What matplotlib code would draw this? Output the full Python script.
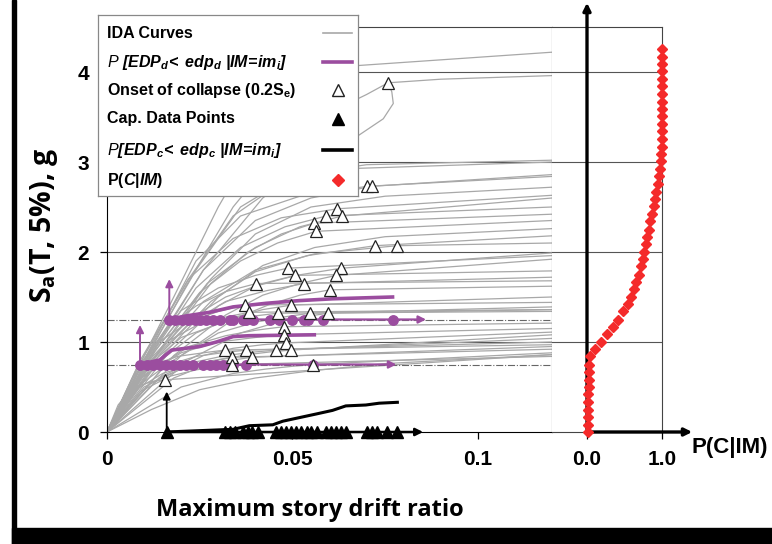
# IDA curves with collapse fragility panel

import numpy as np
import matplotlib.pyplot as plt
from matplotlib.patches import Rectangle

plt.rcParams['font.family'] = ['Liberation Sans', 'DejaVu Sans']
plt.rcParams['mathtext.fontset'] = 'custom'
plt.rcParams['mathtext.rm'] = 'Liberation Sans:bold'
plt.rcParams['mathtext.it'] = 'Liberation Sans:italic'
plt.rcParams['mathtext.bf'] = 'Liberation Sans:bold'
plt.rcParams['mathtext.bfit'] = 'Liberation Sans:bold:italic'

#-----------------------------------
# IDA curves: drift (x) vs Sa (y)
ida_x = [
    [0, 0.007, 0.018, 0.030, 0.044, 0.060, 0.12],
    [0, 0.009, 0.021, 0.034, 0.048, 0.060, 0.070, 0.0758, 0.090, 0.12],
    [0, 0.011, 0.026, 0.042, 0.058, 0.068, 0.0745, 0.0772, 0.0768, 0.0758],
    [0, 0.010, 0.024, 0.036, 0.050, 0.070, 0.12],
    [0, 0.008, 0.022, 0.034, 0.048, 0.068, 0.12],
    [0, 0.012, 0.026, 0.040, 0.055, 0.0715, 0.12],
    [0, 0.010, 0.024, 0.036, 0.052, 0.0702, 0.12],
    [0, 0.014, 0.028, 0.040, 0.055, 0.075, 0.12],
    [0, 0.009, 0.022, 0.034, 0.047, 0.0621, 0.12],
    [0, 0.013, 0.027, 0.040, 0.052, 0.0634, 0.12],
    [0, 0.011, 0.024, 0.036, 0.048, 0.0591, 0.12],
    [0, 0.015, 0.028, 0.038, 0.047, 0.0559, 0.12],
    [0, 0.012, 0.025, 0.036, 0.046, 0.0564, 0.12],
    [0, 0.016, 0.030, 0.042, 0.056, 0.075, 0.12],
    [0, 0.014, 0.028, 0.040, 0.054, 0.0723, 0.12],
    [0, 0.012, 0.026, 0.040, 0.056, 0.0782, 0.12],
    [0, 0.017, 0.030, 0.040, 0.051, 0.0632, 0.12],
    [0, 0.010, 0.020, 0.030, 0.040, 0.0487, 0.12],
    [0, 0.018, 0.032, 0.042, 0.052, 0.0618, 0.12],
    [0, 0.012, 0.022, 0.032, 0.042, 0.0508, 0.12],
    [0, 0.011, 0.022, 0.032, 0.043, 0.0532, 0.12],
    [0, 0.020, 0.034, 0.044, 0.052, 0.0602, 0.12],
    [0, 0.008, 0.016, 0.024, 0.032, 0.0403, 0.12],
    [0, 0.013, 0.024, 0.034, 0.042, 0.0497, 0.12],
    [0, 0.007, 0.014, 0.022, 0.030, 0.0371, 0.12],
    [0, 0.016, 0.030, 0.040, 0.048, 0.0548, 0.12],
    [0, 0.008, 0.016, 0.024, 0.031, 0.0384, 0.12],
    [0, 0.010, 0.020, 0.030, 0.038, 0.0460, 0.12],
    [0, 0.022, 0.036, 0.046, 0.053, 0.0597, 0.12],
    [0, 0.011, 0.022, 0.032, 0.040, 0.0476, 0.12],
    [0, 0.009, 0.020, 0.030, 0.040, 0.0476, 0.12],
    [0, 0.014, 0.026, 0.034, 0.042, 0.0484, 0.12],
    [0, 0.018, 0.030, 0.038, 0.044, 0.0495, 0.12],
    [0, 0.012, 0.024, 0.032, 0.040, 0.0457, 0.12],
    [0, 0.008, 0.016, 0.024, 0.031, 0.0376, 0.12],
    [0, 0.006, 0.012, 0.019, 0.026, 0.0317, 0.12],
    [0, 0.010, 0.020, 0.028, 0.034, 0.0390, 0.12],
    [0, 0.007, 0.015, 0.022, 0.028, 0.0336, 0.12],
    [0, 0.009, 0.017, 0.024, 0.029, 0.0338, 0.12],
    [0, 0.020, 0.034, 0.043, 0.050, 0.0556, 0.12],
    [0, 0.003, 0.006, 0.009, 0.012, 0.0156, 0.12],
    [0, 0.012, 0.025, 0.040, 0.055, 0.075, 0.12],
]
ida_y = [
    [0, 0.6, 1.5, 2.5, 3.5, 4.05, 4.22],
    [0, 0.7, 1.6, 2.5, 3.2, 3.55, 3.75, 3.88, 3.92, 3.96],
    [0, 0.8, 1.8, 2.6, 3.1, 3.30, 3.48, 3.65, 3.78, 3.88],
    [0, 0.8, 1.8, 2.5, 2.85, 2.97, 3.02],
    [0, 0.7, 1.7, 2.4, 2.8, 2.93, 3.00],
    [0, 0.9, 1.8, 2.35, 2.6, 2.73, 2.86],
    [0, 0.8, 1.9, 2.4, 2.62, 2.73, 2.84],
    [0, 0.9, 1.7, 2.2, 2.5, 2.62, 2.72],
    [0, 0.8, 1.7, 2.15, 2.38, 2.48, 2.63],
    [0, 0.9, 1.65, 2.05, 2.28, 2.40, 2.60],
    [0, 0.8, 1.6, 2.05, 2.28, 2.40, 2.50],
    [0, 0.95, 1.65, 2.0, 2.2, 2.32, 2.42],
    [0, 0.85, 1.55, 1.9, 2.1, 2.23, 2.35],
    [0, 0.9, 1.5, 1.85, 2.05, 2.17, 2.26],
    [0, 0.85, 1.45, 1.78, 1.96, 2.07, 2.18],
    [0, 0.8, 1.45, 1.8, 1.98, 2.07, 2.10],
    [0, 0.9, 1.4, 1.62, 1.74, 1.82, 1.99],
    [0, 0.8, 1.35, 1.6, 1.74, 1.82, 1.96],
    [0, 0.85, 1.3, 1.52, 1.65, 1.74, 1.92],
    [0, 0.8, 1.25, 1.5, 1.65, 1.74, 1.79],
    [0, 0.75, 1.2, 1.45, 1.57, 1.65, 1.72],
    [0, 0.85, 1.25, 1.42, 1.52, 1.58, 1.62],
    [0, 0.7, 1.15, 1.4, 1.56, 1.65, 1.68],
    [0, 0.75, 1.1, 1.27, 1.36, 1.41, 1.50],
    [0, 0.6, 1.0, 1.22, 1.34, 1.41, 1.44],
    [0, 0.75, 1.1, 1.22, 1.28, 1.32, 1.39],
    [0, 0.65, 1.0, 1.18, 1.27, 1.33, 1.36],
    [0, 0.7, 1.05, 1.2, 1.28, 1.32, 1.34],
    [0, 0.8, 1.1, 1.22, 1.28, 1.32, 1.36],
    [0, 0.65, 0.95, 1.07, 1.13, 1.17, 1.21],
    [0, 0.6, 0.88, 1.0, 1.05, 1.08, 1.15],
    [0, 0.6, 0.85, 0.93, 0.97, 0.99, 1.11],
    [0, 0.6, 0.8, 0.86, 0.89, 0.91, 1.08],
    [0, 0.55, 0.78, 0.85, 0.89, 0.91, 1.04],
    [0, 0.5, 0.74, 0.84, 0.88, 0.91, 1.00],
    [0, 0.5, 0.74, 0.84, 0.88, 0.91, 0.97],
    [0, 0.5, 0.7, 0.77, 0.80, 0.83, 0.95],
    [0, 0.45, 0.65, 0.74, 0.79, 0.83, 0.92],
    [0, 0.45, 0.62, 0.69, 0.72, 0.75, 0.84],
    [0, 0.5, 0.65, 0.70, 0.73, 0.75, 0.88],
    [0, 0.3, 0.45, 0.52, 0.56, 0.58, 0.86],
    [0, 0.25, 0.47, 0.60, 0.68, 0.76, 0.86],
]

# onset of collapse (0.2 Se) points
onset_x = [0.0758, 0.0702, 0.0715, 0.0621, 0.0591, 0.0634, 0.0559, 0.0564,
           0.0723, 0.0782, 0.0487, 0.0508, 0.0532, 0.0632, 0.0618, 0.0602,
           0.0403, 0.0497, 0.0460, 0.0548, 0.0597, 0.0371, 0.0384, 0.0476,
           0.0476, 0.0484, 0.0457, 0.0495, 0.0317, 0.0336, 0.0376, 0.0390,
           0.0338, 0.0556, 0.0156]
onset_y = [3.88, 2.73, 2.73, 2.48, 2.40, 2.40, 2.32, 2.23,
           2.07, 2.07, 1.82, 1.74, 1.65, 1.82, 1.74, 1.58,
           1.65, 1.41, 1.32, 1.32, 1.32, 1.41, 1.33, 1.17,
           1.08, 0.99, 0.91, 0.91, 0.91, 0.83, 0.91, 0.83,
           0.75, 0.75, 0.58]

# capacity data points (drift at collapse)
cap_x = [0.0161, 0.0317, 0.0331, 0.0344, 0.0366, 0.0379, 0.0392, 0.0406,
         0.0457, 0.0470, 0.0484, 0.0497, 0.0511, 0.0524, 0.0538, 0.0551,
         0.0565, 0.0591, 0.0605, 0.0618, 0.0632, 0.0645, 0.0702, 0.0715,
         0.0728, 0.0755, 0.0782]

# P[EDPc < edpc | IM] curve (scaled)
cdf_c_x = [0.0160, 0.0340, 0.0384, 0.0447, 0.0474, 0.0519, 0.0564, 0.0608,
           0.0644, 0.0698, 0.0734, 0.0783]
cdf_c_y = [0.00, 0.03, 0.07, 0.08, 0.12, 0.16, 0.20, 0.24, 0.29, 0.30, 0.32, 0.33]

# P[EDPd < edpd | IM=im_i] curves at IM = 0.75 and 1.25
im_lo = 0.75
im_hi = 1.25
cdf_lo_x = [0.0089, 0.0142, 0.0174, 0.0250, 0.0295, 0.0340, 0.0384, 0.0559]
cdf_lo_y = [0.75, 0.80, 0.91, 0.95, 1.00, 1.06, 1.07, 1.08]
cdf_hi_x = [0.0168, 0.0214, 0.0277, 0.0340, 0.0429, 0.0519, 0.0608, 0.0770]
cdf_hi_y = [1.25, 1.29, 1.33, 1.39, 1.43, 1.46, 1.48, 1.50]

# drift values of the IDA curves at the two IM levels
dots_lo = [0.0089, 0.0107, 0.0124, 0.0142, 0.0160, 0.0178, 0.0196, 0.0214,
           0.0232, 0.0259, 0.0277, 0.0295, 0.0312, 0.0331, 0.0340, 0.0376, 0.0555]
dots_hi = [0.0168, 0.0183, 0.0201, 0.0219, 0.0237, 0.0250, 0.0268, 0.0286,
           0.0304, 0.0331, 0.0340, 0.0366, 0.0376, 0.0395, 0.0440, 0.0465,
           0.0498, 0.0532, 0.0541, 0.0583, 0.0770]

# collapse fragility P(C|IM)
pc_sa = [0.00, 0.08, 0.17, 0.25, 0.33, 0.42, 0.50, 0.58, 0.67, 0.75,
         0.84, 0.92, 1.00, 1.09, 1.17, 1.25, 1.34, 1.42, 1.50, 1.59,
         1.67, 1.75, 1.84, 1.92, 2.00, 2.09, 2.17, 2.25, 2.34, 2.42,
         2.51, 2.59, 2.67, 2.76, 2.84, 2.92, 3.01, 3.09, 3.17, 3.26,
         3.34, 3.42, 3.51, 3.59, 3.67, 3.76, 3.84, 3.92, 4.01, 4.09,
         4.17, 4.26]
pc_p = [0.01, 0.01, 0.01, 0.01, 0.01, 0.01, 0.02, 0.02, 0.02, 0.03,
        0.045, 0.10, 0.18, 0.26, 0.34, 0.41, 0.48, 0.54, 0.58, 0.62,
        0.65, 0.69, 0.72, 0.74, 0.76, 0.78, 0.80, 0.82, 0.84, 0.87,
        0.89, 0.91, 0.92, 0.94, 0.955, 0.97, 0.98, 0.99, 1.0, 1.0,
        1.0, 1.0, 1.0, 1.0, 1.0, 1.0, 1.0, 1.0, 1.0, 1.0,
        1.0, 1.0]

leg_labels = [
    'IDA Curves',
    r'$\mathit{P}\ \mathbfit{[EDP_d\!<\ edp_d\ |IM\!=\!im_i]}$',
    r'Onset of collapse (0.2S$_\mathregular{e}$)',
    'Cap. Data Points',
    r'$\mathit{P}\mathbfit{[EDP_c\!<\ edp_c\ |IM\!=\!im_i]}$',
    r'P($\mathbfit{C}$|$\mathbfit{IM}$)',
]

#-----------------------------------
purple = '#9b4d9f'
gray = '#a8a8a8'
red = '#f42a2a'
W, H = 772, 544

fig = plt.figure(figsize=(W/100, H/100), dpi=100)
ax = fig.add_axes([107/W, 112/H, 445/W, 405/H])
ax2 = fig.add_axes([552/W, 112/H, 110/W, 405/H])

# main panel
for yy in [1, 2, 3, 4]:
    ax.axhline(yy, color='#555555', lw=0.8, zorder=1)
for xs, ys in zip(ida_x, ida_y):
    ax.plot(xs, ys, color=gray, lw=0.9, zorder=2)

ax.axhline(im_lo, color='#666666', lw=0.8, ls='-.', zorder=2)
ax.axhline(im_hi, color='#666666', lw=0.8, ls='-.', zorder=2)

ax.plot(onset_x, onset_y, '^', mfc='white', mec='#222222', mew=0.9, ms=8, ls='none', zorder=6)

arrow_kw = dict(arrowstyle='-|>', mutation_scale=11)
ax.annotate('', xy=(0.0788, im_lo), xytext=(dots_lo[0], im_lo),
            arrowprops=dict(color=purple, lw=1.6, **arrow_kw), zorder=4)
ax.annotate('', xy=(0.0868, im_hi), xytext=(dots_hi[0], im_hi),
            arrowprops=dict(color=purple, lw=1.6, **arrow_kw), zorder=4)
ax.annotate('', xy=(dots_lo[0], 1.22), xytext=(dots_lo[0], im_lo),
            arrowprops=dict(color=purple, lw=1.4, **arrow_kw), zorder=4)
ax.annotate('', xy=(dots_hi[0], 1.73), xytext=(dots_hi[0], im_hi),
            arrowprops=dict(color=purple, lw=1.4, **arrow_kw), zorder=4)

ax.plot(cdf_lo_x, cdf_lo_y, color=purple, lw=2.6, zorder=5)
ax.plot(cdf_hi_x, cdf_hi_y, color=purple, lw=2.6, zorder=5)
ax.plot(dots_lo, [im_lo]*len(dots_lo), 'o', color=purple, ms=6.8, zorder=5)
ax.plot(dots_hi, [im_hi]*len(dots_hi), 'o', color=purple, ms=6.8, zorder=5)

ax.annotate('', xy=(0.086, 0), xytext=(cap_x[0], 0),
            arrowprops=dict(color='black', lw=1.8, **arrow_kw), zorder=6, annotation_clip=False)
ax.annotate('', xy=(cap_x[0], 0.48), xytext=(cap_x[0], 0),
            arrowprops=dict(color='black', lw=1.3, **arrow_kw), zorder=6)
ax.plot(cdf_c_x, cdf_c_y, color='black', lw=2.2, zorder=6)
ax.plot(cap_x, [0]*len(cap_x), '^', color='black', ms=9, ls='none', clip_on=False, zorder=7)

ax.set_xlim(0, 0.12)
ax.set_ylim(0, 4.5)
ax.set_xticks([0, 0.05, 0.1])
ax.set_xticklabels(['0', '0.05', '0.1'])
ax.set_yticks([0, 1, 2, 3, 4])
ax.tick_params(direction='out', length=5, width=0.9, labelsize=15, pad=8)
for lab in ax.get_xticklabels() + ax.get_yticklabels():
    lab.set_fontweight('bold')
for s in ['top', 'right']:
    ax.spines[s].set_color('#444444')
    ax.spines[s].set_linewidth(0.8)

# right panel: P(C|IM)
ax2.set_xlim(-0.4667, 1.0)
ax2.set_ylim(0, 4.5)
for yy in [1, 2, 3, 4]:
    ax2.axhline(yy, color='#555555', lw=0.8, zorder=1)
ax2.spines['left'].set_visible(False)
for s in ['top', 'right', 'bottom']:
    ax2.spines[s].set_color('#444444')
    ax2.spines[s].set_linewidth(0.8)
ax2.set_yticks([])
ax2.set_xticks([0, 1])
ax2.set_xticklabels(['0.0', '1.0'])
ax2.tick_params(direction='out', length=5, width=0.9, labelsize=15, pad=8)
for lab in ax2.get_xticklabels():
    lab.set_fontweight('bold')
ax2.annotate('', xy=(0, 4.8), xytext=(0, 0),
             arrowprops=dict(color='black', lw=2.4, **arrow_kw), annotation_clip=False)
ax2.annotate('', xy=(1.44, 0), xytext=(0, 0),
             arrowprops=dict(color='black', lw=2.4, **arrow_kw), annotation_clip=False)
ax2.plot(pc_p, pc_sa, 'D', color=red, ms=5.2, ls='none', clip_on=False, zorder=5)

# legend box (labels left, symbols right), in pixel units from its top-left corner
lx = fig.add_axes([98/W, 1 - 196/H, 260/W, 181/H])
lx.set_zorder(10)
lx.set_xlim(0, 260)
lx.set_ylim(181, 0)
lx.set_xticks([])
lx.set_yticks([])
for s in lx.spines.values():
    s.set_color('#888888')
    s.set_linewidth(0.9)
row_y = [18, 47, 75, 104, 135, 165]
for yy, lab in zip(row_y, leg_labels):
    lx.text(9, yy, lab, ha='left', va='center', fontsize=11.5, fontweight='bold')
lx.plot([225, 254], [row_y[0]]*2, color=gray, lw=1.2)
lx.plot([225, 254], [row_y[1]]*2, color=purple, lw=2.6)
lx.plot([240], [row_y[2]], '^', mfc='white', mec='#222222', ms=8)
lx.plot([240], [row_y[3]], '^', color='black', ms=8)
lx.plot([225, 254], [row_y[4]]*2, color='black', lw=2.6)
lx.plot([240], [row_y[5]], 'D', color=red, ms=6.5)

# labels
fig.text(310/W, 1 - 510/H, 'Maximum story drift ratio', ha='center', va='center',
         fontsize=17, fontweight='bold', family='Open Sans')
fig.text(44/W, 1 - 225/H, r'S$_\mathregular{a}$(T, 5%), g', ha='center', va='center',
         rotation=90, fontsize=20.5, fontweight='bold', family='Open Sans')
fig.text(730/W, 1 - 447/H, 'P(C|IM)', ha='center', va='center', fontsize=16, fontweight='bold')

# black frame bits
fig.add_artist(Rectangle((12/W, 0), 4/W, 1, transform=fig.transFigure, color='black'))
fig.add_artist(Rectangle((12/W, 0), 1, 16/H, transform=fig.transFigure, color='black'))

plt.savefig('out.png', dpi=100)
